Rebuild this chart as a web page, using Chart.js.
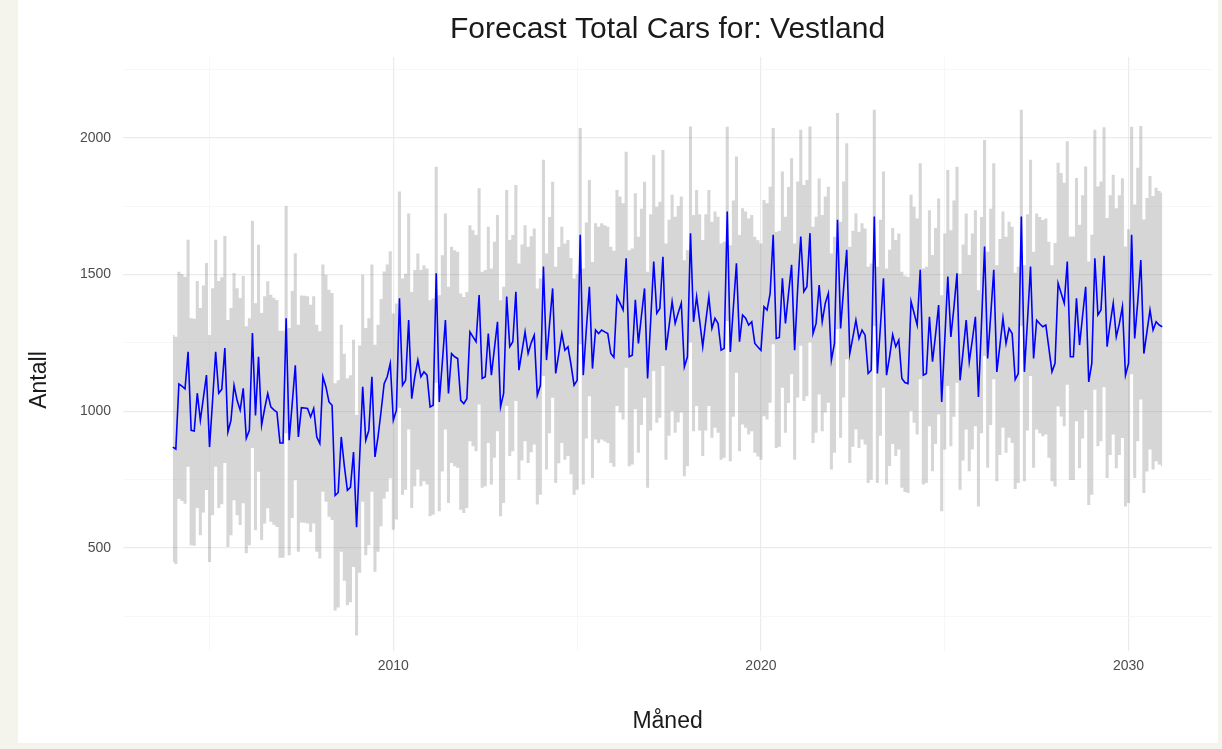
<!DOCTYPE html>
<html>
<head>
<meta charset="utf-8">
<script src="https://cdn.jsdelivr.net/npm/chart.js@4.4.1/dist/chart.umd.min.js"></script>
<style>
  html, body { margin: 0; padding: 0; background: #f4f4ec; }
  #panel { position: absolute; left: 18px; top: 0; width: 1200px; height: 743px; background: #ffffff; }
  #chart { position: absolute; left: 0; top: 0; }
</style>
</head>
<body>
<div id="panel"></div>
<canvas id="chart" width="1222" height="749"></canvas>
<script>
// monthly series, Jan 2004 .. Dec 2030
const startYear = 2004;
const chartTitle = 'Forecast Total Cars for: Vestland';
const yTitle = 'Antall';
const xTitle = 'Måned';

const forecast = [
  869, 862, 1100, 1092, 1082, 1217, 930, 928, 1066, 967, 1050, 1132,
  869, 1040, 1217, 1066, 1080, 1231, 924, 967, 1095, 1040, 1004, 1084,
  901, 930, 1286, 985, 1199, 949, 1010, 1065, 1016, 1005, 997, 884,
  884, 1340, 894, 1030, 1168, 906, 1013, 1012, 1010, 979, 1010, 906,
  882, 1126, 1089, 1034, 1022, 692, 703, 906, 800, 711, 722, 851,
  576, 830, 1089, 894, 930, 1126, 833, 906, 1000, 1101, 1126, 1175,
  967, 1004, 1413, 1095, 1113, 1333, 1046, 1126, 1187, 1126, 1144, 1132,
  1016, 1022, 1504, 1034, 1180, 1333, 1065, 1211, 1199, 1193, 1040, 1028,
  1046, 1290, 1272, 1254, 1425, 1120, 1126, 1284, 1132, 1230, 1327, 1016,
  1065, 1419, 1236, 1254, 1437, 1150, 1220, 1290, 1211, 1250, 1278, 1059,
  1095, 1529, 1187, 1320, 1449, 1138, 1210, 1284, 1223, 1236, 1170, 1095,
  1113, 1645, 1132, 1300, 1455, 1156, 1297, 1284, 1297, 1290, 1284, 1211,
  1197, 1419, 1395, 1370, 1559, 1199, 1205, 1407, 1248, 1350, 1449, 1120,
  1330, 1547, 1358, 1376, 1565, 1223, 1310, 1401, 1321, 1360, 1395, 1162,
  1199, 1651, 1327, 1419, 1330, 1236, 1330, 1419, 1303, 1340, 1321, 1223,
  1230, 1730, 1217, 1380, 1541, 1254, 1352, 1340, 1315, 1327, 1248, 1235,
  1223, 1382, 1370, 1431, 1645, 1266, 1270, 1486, 1321, 1430, 1535, 1223,
  1450, 1639, 1437, 1455, 1651, 1284, 1321, 1461, 1327, 1395, 1431, 1187,
  1248, 1700, 1303, 1450, 1590, 1211, 1270, 1333, 1266, 1297, 1278, 1138,
  1150, 1712, 1138, 1310, 1486, 1132, 1200, 1280, 1236, 1260, 1120, 1105,
  1101, 1401, 1358, 1315, 1517, 1132, 1138, 1345, 1181, 1280, 1388, 1034,
  1260, 1492, 1272, 1380, 1504, 1113, 1220, 1333, 1181, 1260, 1345, 1052,
  1320, 1602, 1193, 1350, 1517, 1144, 1240, 1340, 1248, 1303, 1284, 1116,
  1138, 1712, 1144, 1330, 1529, 1193, 1333, 1320, 1309, 1315, 1230, 1144,
  1175, 1468, 1431, 1395, 1547, 1199, 1199, 1413, 1242, 1350, 1455, 1107,
  1175, 1559, 1352, 1370, 1568, 1236, 1320, 1395, 1272, 1320, 1382, 1132,
  1175, 1645, 1266, 1400, 1553, 1211, 1290, 1370, 1297, 1327, 1315, 1309
];

const upper = [
  1279, 1272, 1510, 1502, 1492, 1627, 1340, 1338, 1476, 1377, 1460, 1542,
  1279, 1450, 1627, 1476, 1490, 1641, 1334, 1377, 1505, 1450, 1414, 1494,
  1311, 1340, 1696, 1395, 1609, 1359, 1420, 1475, 1426, 1415, 1407, 1294,
  1294, 1750, 1304, 1440, 1578, 1316, 1423, 1422, 1420, 1389, 1420, 1316,
  1292, 1536, 1499, 1444, 1432, 1102, 1113, 1316, 1210, 1121, 1132, 1261,
  986, 1240, 1499, 1304, 1340, 1536, 1243, 1316, 1410, 1511, 1536, 1585,
  1357, 1394, 1803, 1485, 1503, 1723, 1436, 1516, 1577, 1516, 1534, 1522,
  1406, 1412, 1894, 1424, 1570, 1723, 1455, 1601, 1589, 1583, 1430, 1418,
  1436, 1680, 1662, 1644, 1815, 1510, 1516, 1674, 1522, 1620, 1717, 1406,
  1455, 1809, 1626, 1644, 1827, 1540, 1610, 1680, 1601, 1640, 1668, 1449,
  1485, 1919, 1577, 1710, 1839, 1528, 1600, 1674, 1613, 1626, 1560, 1485,
  1503, 2035, 1522, 1690, 1845, 1546, 1687, 1674, 1687, 1680, 1674, 1601,
  1587, 1809, 1785, 1760, 1949, 1589, 1595, 1797, 1638, 1740, 1839, 1510,
  1720, 1937, 1748, 1766, 1955, 1613, 1700, 1791, 1711, 1750, 1785, 1552,
  1589, 2041, 1717, 1809, 1720, 1626, 1720, 1809, 1693, 1730, 1711, 1613,
  1620, 2040, 1607, 1770, 1931, 1644, 1742, 1730, 1705, 1717, 1638, 1625,
  1613, 1772, 1760, 1821, 2035, 1656, 1660, 1876, 1711, 1820, 1925, 1613,
  1840, 2029, 1827, 1845, 2041, 1674, 1711, 1851, 1717, 1785, 1821, 1577,
  1638, 2090, 1693, 1840, 1980, 1601, 1660, 1723, 1656, 1687, 1668, 1528,
  1540, 2102, 1528, 1700, 1876, 1522, 1590, 1670, 1626, 1650, 1510, 1495,
  1491, 1791, 1748, 1705, 1907, 1522, 1528, 1735, 1571, 1670, 1778, 1424,
  1650, 1882, 1662, 1770, 1894, 1503, 1610, 1723, 1571, 1650, 1735, 1442,
  1710, 1992, 1583, 1740, 1907, 1534, 1630, 1730, 1638, 1693, 1674, 1506,
  1528, 2102, 1534, 1720, 1919, 1583, 1723, 1710, 1699, 1705, 1620, 1534,
  1615, 1908, 1871, 1835, 1987, 1639, 1639, 1853, 1682, 1790, 1895, 1547,
  1645, 2029, 1822, 1840, 2038, 1706, 1790, 1865, 1742, 1790, 1852, 1602,
  1665, 2040, 1756, 1890, 2043, 1701, 1780, 1860, 1787, 1817, 1805, 1799
];

const lower = [
  449, 442, 680, 672, 662, 797, 510, 508, 646, 547, 630, 712,
  449, 620, 797, 646, 660, 811, 504, 547, 675, 620, 584, 664,
  481, 510, 866, 565, 779, 529, 590, 645, 596, 585, 577, 464,
  464, 920, 474, 610, 748, 486, 593, 592, 590, 559, 590, 486,
  462, 706, 669, 614, 602, 272, 283, 486, 380, 291, 302, 431,
  180, 410, 669, 474, 510, 706, 413, 486, 580, 681, 706, 755,
  567, 604, 1013, 695, 713, 933, 646, 726, 787, 726, 744, 732,
  616, 622, 1104, 634, 780, 933, 665, 811, 799, 793, 640, 628,
  646, 890, 872, 854, 1025, 720, 726, 884, 732, 830, 927, 616,
  665, 1019, 836, 854, 1037, 750, 820, 890, 811, 850, 878, 659,
  695, 1129, 787, 920, 1049, 738, 810, 884, 823, 836, 770, 695,
  713, 1245, 732, 900, 1055, 756, 897, 884, 897, 890, 884, 811,
  797, 1019, 995, 970, 1159, 799, 805, 1007, 848, 950, 1049, 720,
  930, 1147, 958, 976, 1165, 823, 910, 1001, 921, 960, 995, 762,
  799, 1251, 927, 1019, 930, 836, 930, 1019, 903, 940, 921, 823,
  830, 1330, 817, 980, 1141, 854, 952, 940, 915, 927, 848, 835,
  823, 982, 970, 1031, 1245, 866, 870, 1086, 921, 1030, 1135, 823,
  1050, 1239, 1037, 1055, 1251, 884, 921, 1061, 927, 995, 1031, 787,
  848, 1300, 903, 1050, 1190, 811, 870, 933, 866, 897, 878, 738,
  750, 1312, 738, 910, 1086, 732, 800, 880, 836, 860, 720, 705,
  701, 1001, 958, 915, 1117, 732, 738, 945, 781, 880, 988, 634,
  860, 1092, 872, 980, 1104, 713, 820, 933, 781, 860, 945, 652,
  920, 1202, 793, 950, 1117, 744, 840, 940, 848, 903, 884, 716,
  738, 1312, 744, 930, 1129, 793, 933, 920, 909, 915, 830, 744,
  725, 1018, 981, 945, 1097, 749, 749, 963, 792, 900, 1005, 657,
  695, 1079, 872, 890, 1088, 756, 840, 915, 792, 840, 902, 652,
  665, 1135, 756, 890, 1043, 701, 780, 860, 787, 817, 805, 799
];

const xTicks = [2005, 2010, 2015, 2020, 2025, 2030];
const xLabels = [2010, 2020, 2030];
const yTicks = [250, 500, 750, 1000, 1250, 1500, 1750, 2000, 2250];
const yLabels = [500, 1000, 1500, 2000];

const toPoints = arr => arr.map((v, i) => ({ x: startYear + i / 12, y: v }));

const majorGrid = '#ebebeb';
const minorGrid = '#f3f3f3';
const tickColor = '#4d4d4d';
const textColor = '#1a1a1a';
const font = 'Liberation Sans, Arial, sans-serif';

// title over the plot panel and the y title, drawn where ggplot put them
const panelText = {
  id: 'panelText',
  afterDraw(chart) {
    const { ctx, chartArea } = chart;
    ctx.save();
    ctx.fillStyle = textColor;
    ctx.textAlign = 'center';
    ctx.textBaseline = 'middle';
    ctx.font = '30px ' + font;
    ctx.fillText(chartTitle, (chartArea.left + chartArea.right) / 2, 30);
    ctx.font = '23px ' + font;
    ctx.translate(40, 380);
    ctx.rotate(-Math.PI / 2);
    ctx.fillText(yTitle, 0, 0);
    ctx.restore();
  }
};

new Chart(document.getElementById('chart').getContext('2d'), {
  type: 'line',
  data: {
    datasets: [
      {
        label: 'upper',
        data: toPoints(upper),
        stepped: 'middle',
        borderWidth: 0,
        pointRadius: 0,
        fill: false,
        order: 2
      },
      {
        label: 'lower',
        data: toPoints(lower),
        stepped: 'middle',
        borderWidth: 0,
        pointRadius: 0,
        fill: '-1',
        backgroundColor: 'rgba(128,128,128,0.32)',
        order: 1
      },
      {
        label: 'Forecast',
        data: toPoints(forecast),
        borderColor: '#0000ff',
        borderWidth: 1.6,
        pointRadius: 0,
        tension: 0,
        fill: false,
        order: 0
      }
    ]
  },
  options: {
    responsive: false,
    animation: false,
    layout: { padding: { left: 68, right: 10, top: 57, bottom: 14 } },
    plugins: {
      legend: { display: false },
      tooltip: { enabled: false },
      title: { display: false }
    },
    scales: {
      x: {
        type: 'linear',
        min: 2002.65,
        max: 2032.27,
        afterBuildTicks: s => { s.ticks = xTicks.map(v => ({ value: v })); },
        ticks: {
          autoSkip: false,
          maxRotation: 0,
          color: tickColor,
          font: { family: font, size: 14 },
          padding: 7,
          callback: v => xLabels.includes(v) ? String(v) : ''
        },
        grid: {
          drawTicks: false,
          color: c => xLabels.includes(c.tick && c.tick.value) ? majorGrid : minorGrid,
          lineWidth: c => xLabels.includes(c.tick && c.tick.value) ? 1.2 : 0.7
        },
        border: { display: false },
        title: { display: true, text: xTitle, color: textColor, font: { family: font, size: 23 }, padding: { top: 26, bottom: 0 } }
      },
      y: {
        type: 'linear',
        min: 125,
        max: 2295,
        afterBuildTicks: s => { s.ticks = yTicks.map(v => ({ value: v })); },
        ticks: {
          autoSkip: false,
          color: tickColor,
          font: { family: font, size: 14 },
          padding: 12,
          callback: v => yLabels.includes(v) ? String(v) : ''
        },
        grid: {
          drawTicks: false,
          color: c => yLabels.includes(c.tick && c.tick.value) ? majorGrid : minorGrid,
          lineWidth: c => yLabels.includes(c.tick && c.tick.value) ? 1.2 : 0.7
        },
        border: { display: false },
        title: { display: false }
      }
    }
  },
  plugins: [panelText]
});
</script>
</body>
</html>
